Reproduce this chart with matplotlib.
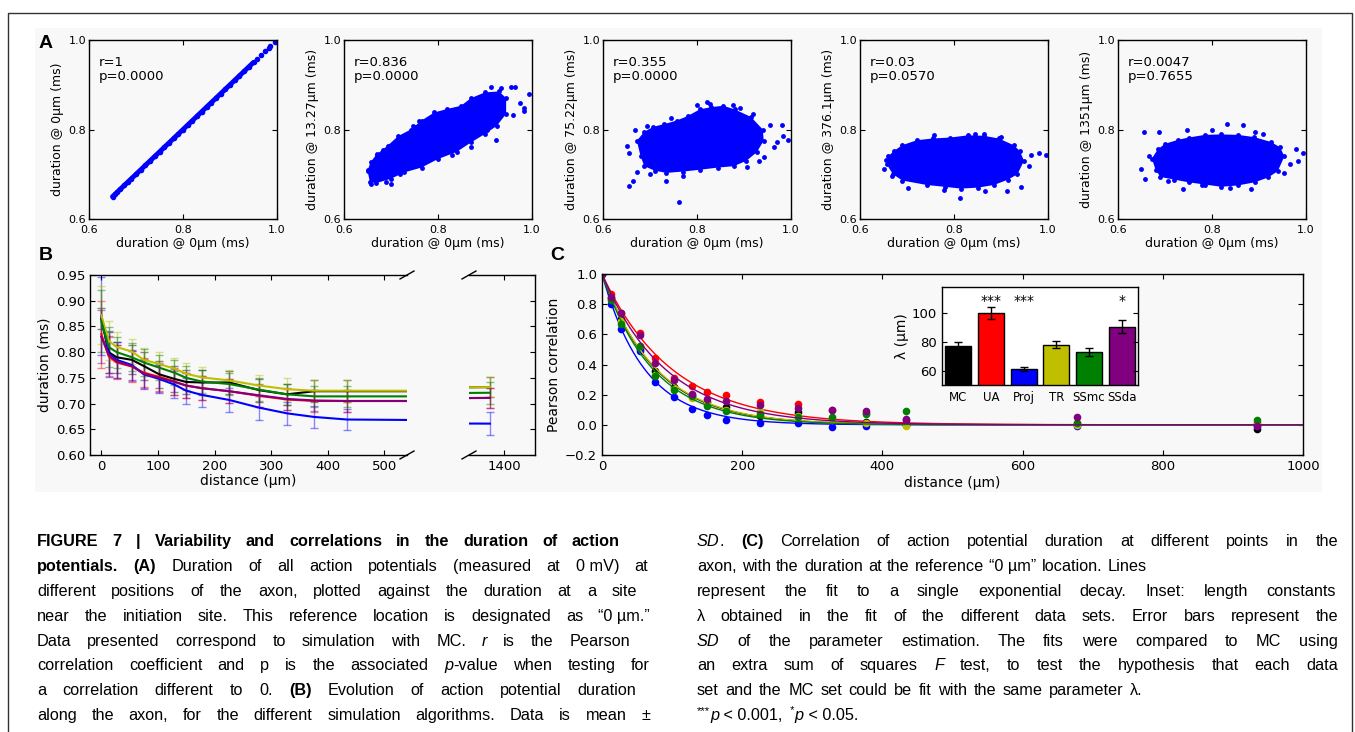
import matplotlib
matplotlib.use("Agg")
import matplotlib.pyplot as plt
from matplotlib.patches import Rectangle
from matplotlib.lines import Line2D
import numpy as np

W, H = 1355, 732

# =========================
# DATOS PANEL A (dispersion)
# =========================
a_ylabels = ["duration @ 0µm (ms)", "duration @ 13.27µm (ms)", "duration @ 75.22µm (ms)",
             "duration @ 376.1µm (ms)", "duration @ 1351µm (ms)"]
a_stats = ["r=1\np=0.0000", "r=0.836\np=0.0000", "r=0.355\np=0.0000",
           "r=0.03\np=0.0570", "r=0.0047\np=0.7655"]

a1_dur = [0.650, 0.655, 0.660, 0.667, 0.675, 0.683, 0.690, 0.700, 0.710, 0.720, 0.730,
          0.740, 0.750, 0.760, 0.770, 0.780, 0.790, 0.800, 0.810, 0.820, 0.830, 0.840,
          0.850, 0.860, 0.870, 0.880, 0.890, 0.900, 0.910, 0.920, 0.930, 0.940, 0.950,
          0.958, 0.966, 0.975, 0.982, 0.986, 0.995]

# nube densa (contorno) + puntos sueltos
a2_hull_x = [0.650, 0.655, 0.668, 0.700, 0.728, 0.765, 0.800, 0.840, 0.870, 0.900, 0.925, 0.945,
             0.945, 0.930, 0.900, 0.870, 0.849, 0.820, 0.792, 0.765, 0.742, 0.715, 0.693, 0.670, 0.657]
a2_hull_y = [0.708, 0.683, 0.680, 0.690, 0.704, 0.715, 0.734, 0.750, 0.771, 0.790, 0.808, 0.835,
             0.870, 0.885, 0.883, 0.870, 0.853, 0.846, 0.838, 0.820, 0.800, 0.785, 0.764, 0.745, 0.728]
a2_out_x = [0.650, 0.657, 0.663, 0.671, 0.684, 0.700, 0.735, 0.746, 0.752, 0.760, 0.913, 0.935,
            0.955, 0.963, 0.974, 0.984, 0.994, 0.982, 0.959, 0.924, 0.905, 0.870, 0.830, 0.720, 0.690]
a2_out_y = [0.710, 0.678, 0.697, 0.743, 0.755, 0.678, 0.765, 0.808, 0.805, 0.818, 0.894, 0.893,
            0.896, 0.894, 0.860, 0.849, 0.879, 0.842, 0.832, 0.776, 0.800, 0.760, 0.742, 0.700, 0.682]

a3_hull_x = [0.672, 0.680, 0.688, 0.710, 0.735, 0.770, 0.806, 0.845, 0.878, 0.905, 0.927, 0.942,
             0.940, 0.915, 0.880, 0.856, 0.830, 0.806, 0.780, 0.757, 0.730, 0.707, 0.688]
a3_hull_y = [0.775, 0.740, 0.718, 0.708, 0.703, 0.706, 0.710, 0.715, 0.718, 0.730, 0.749, 0.775,
             0.800, 0.828, 0.845, 0.853, 0.850, 0.845, 0.830, 0.820, 0.812, 0.806, 0.795]
a3_out_x = [0.650, 0.655, 0.655, 0.664, 0.673, 0.668, 0.762, 0.735, 0.821, 0.828, 0.876, 0.892,
            0.920, 0.956, 0.981, 0.984, 0.994, 0.970, 0.963, 0.942, 0.931, 0.906, 0.771, 0.700,
            0.693, 0.745, 0.800]
a3_out_y = [0.764, 0.747, 0.673, 0.684, 0.706, 0.799, 0.637, 0.686, 0.861, 0.856, 0.855, 0.849,
            0.834, 0.810, 0.810, 0.786, 0.777, 0.772, 0.760, 0.738, 0.730, 0.716, 0.697, 0.700,
            0.808, 0.825, 0.855]

a4_hull_x = [0.657, 0.670, 0.690, 0.742, 0.780, 0.814, 0.850, 0.885, 0.915, 0.935, 0.949, 0.940,
             0.927, 0.895, 0.863, 0.830, 0.792, 0.755, 0.721, 0.690, 0.672, 0.660]
a4_hull_y = [0.722, 0.700, 0.686, 0.676, 0.672, 0.668, 0.670, 0.676, 0.688, 0.700, 0.730, 0.752,
             0.765, 0.780, 0.786, 0.787, 0.782, 0.780, 0.776, 0.765, 0.752, 0.740]
a4_out_x = [0.650, 0.655, 0.668, 0.703, 0.778, 0.812, 0.867, 0.913, 0.942, 0.960, 0.963, 0.981,
            0.995, 0.758, 0.863, 0.899, 0.700, 0.730, 0.845]
a4_out_y = [0.712, 0.731, 0.695, 0.669, 0.665, 0.646, 0.662, 0.663, 0.672, 0.719, 0.744, 0.747,
            0.743, 0.787, 0.791, 0.784, 0.762, 0.772, 0.790]

a5_hull_x = [0.672, 0.680, 0.690, 0.720, 0.750, 0.785, 0.820, 0.855, 0.891, 0.920, 0.940, 0.954,
             0.945, 0.926, 0.890, 0.855, 0.820, 0.785, 0.750, 0.728, 0.700, 0.685]
a5_hull_y = [0.735, 0.710, 0.694, 0.688, 0.682, 0.677, 0.672, 0.675, 0.682, 0.693, 0.707, 0.740,
             0.760, 0.772, 0.783, 0.788, 0.789, 0.788, 0.782, 0.777, 0.768, 0.756]
a5_out_x = [0.656, 0.649, 0.658, 0.688, 0.739, 0.831, 0.866, 0.891, 0.908, 0.965, 0.979, 0.993,
            0.983, 0.954, 0.884, 0.838, 0.778, 0.707, 0.799, 0.746, 0.665]
a5_out_y = [0.794, 0.712, 0.690, 0.794, 0.667, 0.813, 0.809, 0.794, 0.791, 0.724, 0.757, 0.748,
            0.729, 0.703, 0.667, 0.669, 0.675, 0.686, 0.799, 0.799, 0.740]

# =========================
# DATOS PANEL B (duracion vs distancia)
# =========================
algoritmos = ["MC", "UA", "Proj", "TR", "SSmc", "SSda"]
colores = ["#000000", "#ff0000", "#0000ff", "#bfbf00", "#008000", "#800080"]

dist_b = [0, 13, 27, 54, 75, 102, 129, 150, 177, 226, 279, 328, 376, 434, 678, 935, 1375]
mc_b = [0.865, 0.800, 0.790, 0.785, 0.773, 0.757, 0.748, 0.742, 0.741, 0.741, 0.726, 0.718, 0.724, 0.724, 0.724, 0.728, 0.732]
ua_b = [0.835, 0.792, 0.780, 0.772, 0.760, 0.752, 0.743, 0.735, 0.730, 0.724, 0.715, 0.708, 0.705, 0.705, 0.705, 0.708, 0.711]
proj_b = [0.871, 0.797, 0.785, 0.775, 0.757, 0.748, 0.737, 0.725, 0.717, 0.707, 0.692, 0.681, 0.674, 0.669, 0.667, 0.663, 0.661]
tr_b = [0.872, 0.822, 0.810, 0.801, 0.785, 0.777, 0.768, 0.758, 0.751, 0.745, 0.735, 0.728, 0.725, 0.725, 0.725, 0.728, 0.732]
ssmc_b = [0.860, 0.810, 0.800, 0.790, 0.780, 0.770, 0.760, 0.750, 0.743, 0.738, 0.727, 0.718, 0.714, 0.714, 0.714, 0.717, 0.721]
ssda_b = [0.830, 0.795, 0.782, 0.773, 0.758, 0.750, 0.742, 0.735, 0.730, 0.724, 0.716, 0.709, 0.706, 0.705, 0.705, 0.708, 0.711]

sd_mc = [0.020, 0.040, 0.030, 0.028, 0.027, 0.026, 0.025, 0.024, 0.024, 0.023, 0.022, 0.021, 0.021, 0.021, 0.021, 0.021, 0.020]
sd_ua = [0.065, 0.038, 0.033, 0.030, 0.028, 0.027, 0.026, 0.025, 0.024, 0.023, 0.022, 0.021, 0.021, 0.021, 0.021, 0.021, 0.020]
sd_proj = [0.076, 0.045, 0.035, 0.030, 0.028, 0.027, 0.026, 0.025, 0.024, 0.023, 0.023, 0.022, 0.022, 0.021, 0.021, 0.021, 0.022]
sd_tr = [0.057, 0.038, 0.030, 0.025, 0.024, 0.023, 0.021, 0.021, 0.021, 0.020, 0.021, 0.021, 0.020, 0.021, 0.021, 0.021, 0.020]
sd_ssmc = [0.060, 0.038, 0.030, 0.027, 0.026, 0.025, 0.024, 0.023, 0.023, 0.022, 0.022, 0.021, 0.021, 0.021, 0.021, 0.021, 0.021]
sd_ssda = [0.052, 0.036, 0.032, 0.029, 0.028, 0.027, 0.026, 0.025, 0.024, 0.023, 0.022, 0.021, 0.021, 0.021, 0.021, 0.021, 0.020]

# =========================
# DATOS PANEL C (correlacion)
# =========================
dist_c = [0, 13, 27, 54, 75, 102, 129, 150, 177, 226, 279, 328, 376, 434, 678, 935]
mc_c = [1.0, 0.84, 0.70, 0.50, 0.36, 0.25, 0.20, 0.15, 0.12, 0.06, 0.085, 0.04, 0.02, 0.03, 0.0, -0.025]
ua_c = [1.0, 0.87, 0.74, 0.61, 0.44, 0.31, 0.255, 0.22, 0.20, 0.15, 0.14, 0.10, 0.08, 0.0, 0.01, 0.01]
proj_c = [1.0, 0.80, 0.633, 0.49, 0.282, 0.184, 0.107, 0.065, 0.035, 0.01, 0.01, -0.015, -0.005, 0.0, -0.005, -0.01]
tr_c = [1.0, 0.84, 0.69, 0.52, 0.33, 0.24, 0.18, 0.14, 0.10, 0.09, 0.06, 0.03, 0.01, -0.01, 0.0, 0.0]
ssmc_c = [1.0, 0.83, 0.671, 0.52, 0.322, 0.233, 0.19, 0.125, 0.09, 0.07, 0.05, 0.055, 0.075, 0.09, 0.01, 0.03]
ssda_c = [1.0, 0.85, 0.74, 0.596, 0.411, 0.30, 0.204, 0.17, 0.16, 0.13, 0.11, 0.10, 0.09, 0.04, 0.05, -0.01]

# constantes de longitud (inset)
lambdas = [77, 100, 61, 78, 73, 90.5]
lambdas_sd = [3, 4, 1.5, 2.5, 3, 4.5]
estrellas = ["", "***", "***", "", "", "*"]

# =========================
# FIGURA
# =========================
plt.rcParams["font.family"] = "DejaVu Sans"
plt.rcParams["xtick.direction"] = "in"
plt.rcParams["ytick.direction"] = "in"
plt.rcParams["xtick.top"] = True
plt.rcParams["ytick.right"] = True
plt.rcParams["xtick.major.size"] = 3.5
plt.rcParams["ytick.major.size"] = 3.5
plt.rcParams["axes.linewidth"] = 1.0

fig = plt.figure(figsize=(W / 100, H / 100), dpi=100)
fig.patch.set_facecolor("white")

# fondo gris del area de graficas y marco
fig.patches.append(Rectangle((35 / W, 1 - 492 / H), (1322 - 35) / W, (492 - 28) / H,
                             transform=fig.transFigure, facecolor="#f8f8f8", edgecolor="none", zorder=-5))
fig.lines.append(Line2D([8 / W, 8 / W, 1352 / W, 1352 / W], [0, 1 - 13 / H, 1 - 13 / H, 0],
                        transform=fig.transFigure, color="#333333", lw=1.0, zorder=-5))


def px_axes(x0, y0, x1, y1):
    return fig.add_axes([x0 / W, 1 - y1 / H, (x1 - x0) / W, (y1 - y0) / H])


# ---------- Panel A ----------
a_lefts = [89, 344, 603, 860, 1118]
hulls = [None, (a2_hull_x, a2_hull_y), (a3_hull_x, a3_hull_y), (a4_hull_x, a4_hull_y), (a5_hull_x, a5_hull_y)]
outs = [None, (a2_out_x, a2_out_y), (a3_out_x, a3_out_y), (a4_out_x, a4_out_y), (a5_out_x, a5_out_y)]
for i, left in enumerate(a_lefts):
    ax = px_axes(left, 40, left + 188, 219)
    ax.set_facecolor("none")
    if i == 0:
        ax.plot(a1_dur[:33], a1_dur[:33], "-", color="#0000ff", lw=3.5, solid_capstyle="round")
        ax.plot(a1_dur, a1_dur, "o", color="#0000ff", ms=4, mew=0)
    else:
        hx, hy = hulls[i]
        ax.fill(hx, hy, color="#0000ff", lw=0)
        ax.plot(hx, hy, "o", color="#0000ff", ms=3.5, mew=0)
        ox, oy = outs[i]
        ax.plot(ox, oy, "o", color="#0000ff", ms=3.5, mew=0)
    ax.set_xlim(0.6, 1.0)
    ax.set_ylim(0.6, 1.0)
    ax.set_xticks([0.6, 0.8, 1.0])
    ax.set_yticks([0.6, 0.8, 1.0])
    ax.tick_params(axis="x", labelsize=8, pad=4)
    ax.tick_params(axis="y", labelsize=8, pad=2)
    ax.set_xlabel("duration @ 0µm (ms)", fontsize=9, labelpad=1.5)
    ax.set_ylabel(a_ylabels[i], fontsize=9, labelpad=3)
    ax.text(0.05, 0.91, a_stats[i], transform=ax.transAxes, va="top", ha="left",
            fontsize=9.5, linespacing=1.1)

# ---------- Panel B ----------
series_b = [mc_b, ua_b, proj_b, tr_b, ssmc_b, ssda_b]
sd_b = [sd_mc, sd_ua, sd_proj, sd_tr, sd_ssmc, sd_ssda]
axb1 = px_axes(90, 275, 407, 455)
axb2 = px_axes(469, 275, 535, 455)
for ax in (axb1, axb2):
    ax.set_facecolor("none")
    for ys, sd, c in zip(series_b, sd_b, colores):
        ax.errorbar(dist_b, ys, yerr=sd, fmt="none", ecolor=c, alpha=0.45, capsize=3, elinewidth=1)
    for ys, c in zip(series_b, colores):
        ax.plot(dist_b, ys, color=c, lw=1.5)
    ax.set_ylim(0.6, 0.95)
    ax.tick_params(labelsize=9.5)
axb1.set_xlim(-20, 540)
axb2.set_xlim(1338, 1455)
axb1.set_xticks([0, 100, 200, 300, 400, 500])
axb2.set_xticks([1400])
axb1.set_yticks([0.60, 0.65, 0.70, 0.75, 0.80, 0.85, 0.90, 0.95])
axb1.set_yticklabels(["%.2f" % v for v in axb1.get_yticks()])
axb2.set_yticks([0.60, 0.65, 0.70, 0.75, 0.80, 0.85, 0.90, 0.95])
axb1.spines["right"].set_visible(False)
axb2.spines["left"].set_visible(False)
axb1.tick_params(right=False)
axb2.tick_params(left=False, labelleft=False)
axb1.set_xlabel("distance (µm)", fontsize=10, labelpad=1)
axb1.set_ylabel("duration (ms)", fontsize=10, labelpad=3)
# marcas del eje cortado
d1, d2, dy = 0.022, 0.022 * 317 / 66, 0.022
kw = dict(color="k", clip_on=False, lw=1)
axb1.plot((1 - d1, 1 + d1), (-dy, dy), transform=axb1.transAxes, **kw)
axb1.plot((1 - d1, 1 + d1), (1 - dy, 1 + dy), transform=axb1.transAxes, **kw)
axb2.plot((-d2, d2), (-dy, dy), transform=axb2.transAxes, **kw)
axb2.plot((-d2, d2), (1 - dy, 1 + dy), transform=axb2.transAxes, **kw)

# ---------- Panel C ----------
series_c = [mc_c, ua_c, proj_c, tr_c, ssmc_c, ssda_c]
axc = px_axes(602, 274, 1303, 455)
axc.set_facecolor("none")
xfit = np.linspace(0, 1000, 400)
for ys, lam, c in zip(series_c, lambdas, colores):
    axc.plot(dist_c, ys, "o", color=c, ms=5.5, mew=0)
    axc.plot(xfit, np.exp(-xfit / lam), color=c, lw=1)
axc.set_xlim(0, 1000)
axc.set_ylim(-0.2, 1.0)
axc.set_xticks([0, 200, 400, 600, 800, 1000])
axc.set_yticks([-0.2, 0.0, 0.2, 0.4, 0.6, 0.8, 1.0])
axc.tick_params(labelsize=9.5)
axc.set_xlabel("distance (µm)", fontsize=10, labelpad=2)
axc.set_ylabel("Pearson correlation", fontsize=10, labelpad=3)

# inset
axi = px_axes(942, 287, 1138, 385)
axi.set_facecolor("white")
pos = np.arange(len(algoritmos))
axi.bar(pos, lambdas, width=0.8, color=colores, edgecolor="black", lw=1,
        yerr=lambdas_sd, error_kw=dict(ecolor="black", capsize=3, elinewidth=1))
for p, s in zip(pos, estrellas):
    if s:
        axi.text(p, 108.5, s, ha="center", va="center", fontsize=10)
axi.set_xlim(-0.5, 5.5)
axi.set_ylim(50, 118)
axi.set_yticks([60, 80, 100])
axi.set_xticks(pos)
axi.set_xticklabels(algoritmos)
axi.tick_params(axis="x", length=0, labelsize=8.5, pad=4, top=False)
axi.tick_params(axis="y", labelsize=9.5)
axi.set_ylabel("λ (µm)", fontsize=10, labelpad=2)

# letras de panel
for letra, x, y in [("A", 46, 43), ("B", 46, 256), ("C", 557, 256)]:
    fig.text(x / W, 1 - y / H, letra, fontsize=14, fontweight="bold",
             family=["Liberation Sans", "DejaVu Sans"], ha="center", va="center")

# =========================
# LEYENDA (texto justificado)
# =========================
cap_family = ["Liberation Sans", "DejaVu Sans"]
renderer = fig.canvas.get_renderer()


def props(st, size):
    p = dict(family=cap_family, fontsize=size)
    if st == "b":
        p["fontweight"] = "bold"
    if st == "i":
        p["fontstyle"] = "italic"
    if st == "s":
        p["fontsize"] = size * 0.7
    return p


def medir(txt, st, size):
    t = fig.text(0, 0, txt, **props(st, size))
    w = t.get_window_extent(renderer).width
    t.remove()
    return w


def palabras(runs):
    words = [[]]
    for txt, st in runs:
        parts = txt.split(" ")
        for k, p in enumerate(parts):
            if k > 0:
                words.append([])
            if p:
                words[-1].append((p, st))
    return [w for w in words if w]


def ancho_natural(runs, size):
    words = palabras(runs)
    sp = medir("a a", "r", size) - medir("aa", "r", size)
    return sum(medir(t, s, size) for w in words for t, s in w) + sp * (len(words) - 1)


def linea(x0, y, runs, x1, size):
    words = palabras(runs)
    widths = [[medir(t, s, size) for t, s in w] for w in words]
    total = sum(sum(ws) for ws in widths)
    if x1 is None or len(words) < 2:
        gap = medir("a a", "r", size) - medir("aa", "r", size)
    else:
        gap = (x1 - x0 - total) / (len(words) - 1)
    x = x0
    base = y + 5
    for w, ws in zip(words, widths):
        for (t, s), wd in zip(w, ws):
            yy = base - 6 if s == "s" else base
            fig.text(x / W, 1 - yy / H, t, va="baseline", ha="left", **props(s, size))
            x += wd
        x += gap


NB = "\u00a0"
izq = [
    [("FIGURE 7 | Variability and correlations in the duration of action", "b")],
    [("potentials. (A)", "b"), (" Duration of all action potentials (measured at 0" + NB + "mV) at", "r")],
    [("different positions of the axon, plotted against the duration at a site", "r")],
    [("near the initiation site. This reference location is designated as “0" + NB + "µm.”", "r")],
    [("Data presented correspond to simulation with MC. ", "r"), ("r", "i"), (" is the Pearson", "r")],
    [("correlation coefficient and p is the associated ", "r"), ("p", "i"), ("-value when testing for", "r")],
    [("a correlation different to 0. ", "r"), ("(B)", "b"), (" Evolution of action potential duration", "r")],
    [("along the axon, for the different simulation algorithms. Data is mean ±", "r")],
]
izq_fin = [620, 648, 637, 650, 630, 650, 636, 650]

der = [
    [("SD", "i"), (". ", "r"), ("(C)", "b"), (" Correlation of action potential duration at different points in the", "r")],
    [("axon, with the duration at the reference “0" + NB + "µm” location. Lines", "r")],
    [("represent the fit to a single exponential decay. Inset: length constants", "r")],
    [("λ obtained in the fit of the different data sets. Error bars represent the", "r")],
    [("SD", "i"), (" of the parameter estimation. The fits were compared to MC using", "r")],
    [("an extra sum of squares ", "r"), ("F", "i"), (" test, to test the hypothesis that each data", "r")],
    [("set and the MC set could be fit with the same parameter λ.", "r")],
    [("***", "s"), ("p", "i"), (NB + "<" + NB + "0.001,", "r"), (" ", "r"), (NB + "*", "s"), ("p", "i"),
     (NB + "<" + NB + "0.05.", "r")],
]
der_fin = [1338, 1147, 1336, 1338, 1338, 1338, 1143, None]

# tamaño de letra que llena las lineas justificadas
s0 = 10.0
ratios = []
for runs, fin in zip(izq, izq_fin):
    ratios.append((fin - 37) / ancho_natural(runs, s0))
for runs, fin in zip(der, der_fin):
    if fin is not None:
        ratios.append((fin - 697) / ancho_natural(runs, s0))
cap_size = min(13.0, s0 * min(ratios) * 0.99)

y_lineas = [541, 566, 591, 616, 641, 665, 690, 715]
for runs, fin, y in zip(izq, izq_fin, y_lineas):
    linea(37, y, runs, fin, cap_size)
for runs, fin, y in zip(der, der_fin, y_lineas):
    linea(697, y, runs, fin, cap_size)

fig.savefig("out.png", dpi=100, facecolor="white")
